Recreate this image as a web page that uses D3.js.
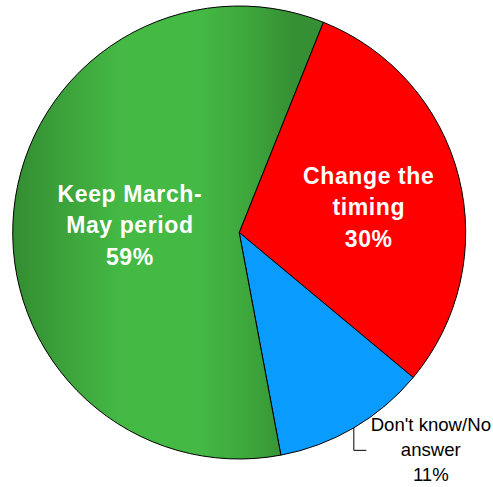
<!DOCTYPE html>
<html>
<head>
<meta charset="utf-8">
<script src="https://cdn.jsdelivr.net/npm/d3@7"></script>
<style>
  html, body { margin: 0; padding: 0; background: #ffffff; }
  svg { display: block; }
  text { font-family: "Liberation Sans", Arial, Helvetica, sans-serif; }
</style>
</head>
<body>
<svg id="chart" width="493" height="487"></svg>
<script>
// Survey answers, in drawing order (clockwise from the top-right)
const categories = ["Change the timing", "Don't know/No answer", "Keep March-May period"];
const values = [30, 11, 59];
const labelLines = [
  ["Change the", "timing", "30%"],
  ["Don't know/No", "answer", "11%"],
  ["Keep March-", "May period", "59%"]
];

const width = 493, height = 487;
const cx = 239.2, cy = 232.5, R = 226.5;
const startDeg = 21.8;

const svg = d3.select("#chart");

// horizontal shading for the green slice (coordinates are relative to the pie centre)
const defs = svg.append("defs");
const grad = defs.append("linearGradient")
  .attr("id", "greenShade")
  .attr("gradientUnits", "userSpaceOnUse")
  .attr("x1", -R).attr("y1", 0)
  .attr("x2", 84).attr("y2", 0);
[[0, "#338d31"], [0.18, "#3da43c"], [0.35, "#44b944"], [0.6, "#44b944"], [0.76, "#3da63c"], [0.91, "#358f33"], [1, "#358f33"]]
  .forEach(([o, c]) => grad.append("stop").attr("offset", o).attr("stop-color", c));

const fills = ["#ff0000", "#0a9bff", "url(#greenShade)"];

const pie = d3.pie()
  .value(d => d)
  .sort(null)
  .startAngle(startDeg * Math.PI / 180)
  .endAngle(startDeg * Math.PI / 180 + 2 * Math.PI);

const arcs = pie(values);
const arc = d3.arc().innerRadius(0).outerRadius(R);

const g = svg.append("g").attr("transform", `translate(${cx},${cy})`);

g.selectAll("path.slice")
  .data(arcs)
  .join("path")
  .attr("class", "slice")
  .attr("d", arc)
  .attr("fill", (d, i) => fills[i])
  .attr("stroke", "#000")
  .attr("stroke-width", 1)
  .attr("stroke-linejoin", "round");

// inside labels: white bold, placed along the slice's mid-angle
const insideRadius = [0.59 * R, null, 0.485 * R];
const insideNudge = [15.5, 0, 11.5];
const lineGap = 31.4;
arcs.forEach((d, i) => {
  if (insideRadius[i] == null) return;
  const a = (d.startAngle + d.endAngle) / 2;
  const px = insideRadius[i] * Math.sin(a);
  const py = -insideRadius[i] * Math.cos(a) + insideNudge[i];
  const lines = labelLines[i];
  const t = g.append("text")
    .attr("text-anchor", "middle")
    .attr("fill", "#ffffff")
    .attr("font-weight", "bold")
    .attr("font-size", 23)
    .attr("letter-spacing", 0.6);
  lines.forEach((s, k) => {
    t.append("tspan")
      .attr("x", px)
      .attr("y", py + (k - (lines.length - 1) / 2) * lineGap)
      .text(s);
  });
});

// outside label with an elbow leader for the small slice
{
  const i = 1, d = arcs[i];
  const a = (d.startAngle + d.endAngle) / 2;
  const x0 = R * Math.sin(a), y0 = -R * Math.cos(a);
  const x1 = x0, y1 = y0 + 22.5;
  const x2 = x0 + 12.5, y2 = y1;
  g.append("path")
    .attr("d", d3.line()([[x0, y0], [x1, y1], [x2, y2]]))
    .attr("fill", "none")
    .attr("stroke", "#000")
    .attr("stroke-width", 1);
  const t = g.append("text")
    .attr("text-anchor", "middle")
    .attr("fill", "#000")
    .attr("font-size", 18.6);
  labelLines[i].forEach((s, k) => {
    t.append("tspan")
      .attr("x", x2 + 64.5)
      .attr("y", y2 - 19 + k * 24.7)
      .text(s);
  });
}
</script>
</body>
</html>
